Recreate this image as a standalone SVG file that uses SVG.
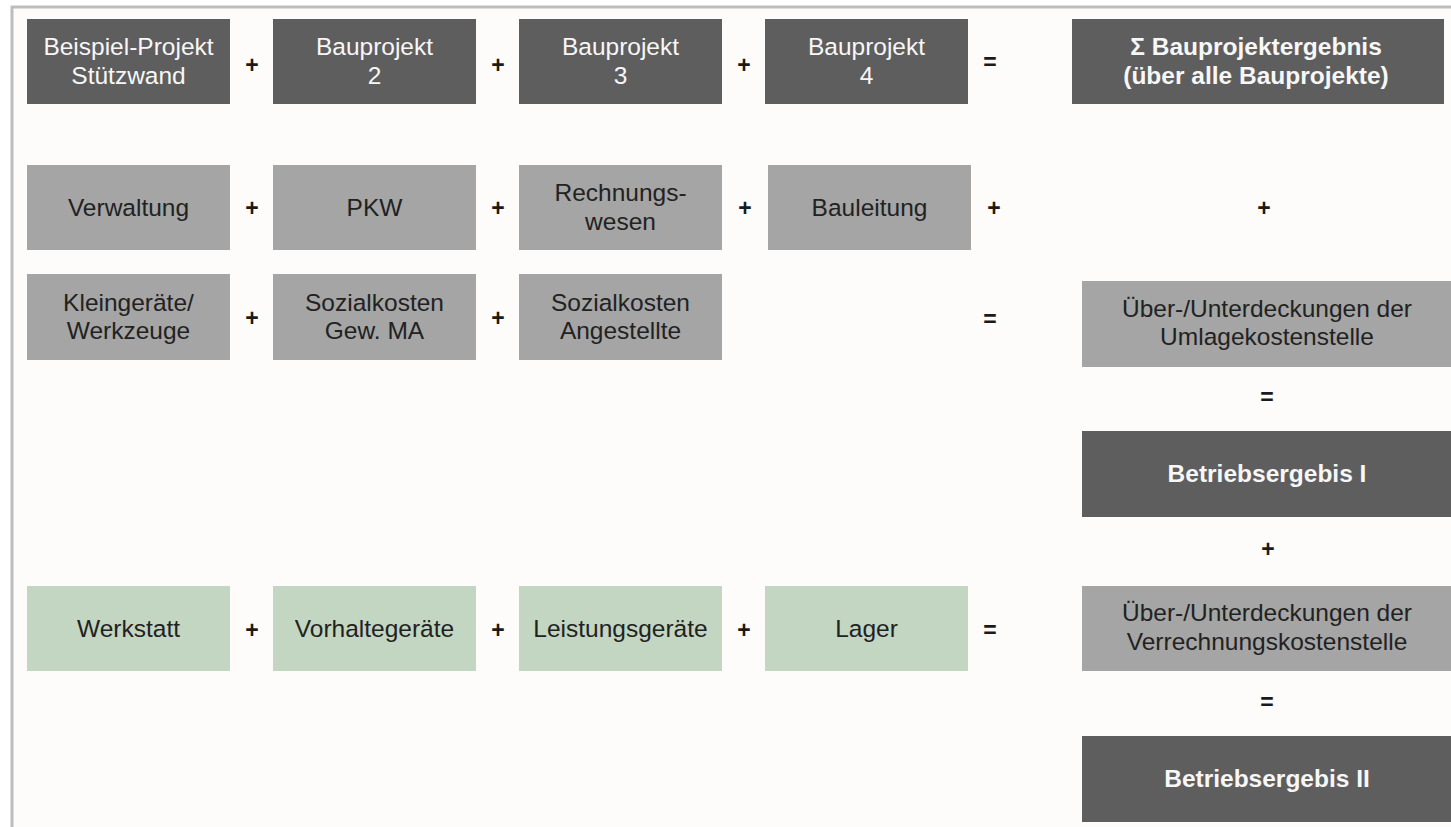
<svg xmlns="http://www.w3.org/2000/svg" width="1451" height="827" viewBox="0 0 1451 827">
<style>
.dark{fill:#5e5e5e}
.gray{fill:#a5a5a5}
.green{fill:#c3d6c2}
text{font-family:"Liberation Sans",Arial,sans-serif;text-anchor:middle}
.tw{fill:#f7f7f7;font-size:24.5px}
.tb{fill:#f7f7f7;font-size:24.5px;font-weight:bold}
.tk{fill:#222222;font-size:24.5px}
.op{fill:#1a1a1a;font-size:23px;font-weight:bold}
</style>
<rect x="0" y="0" width="1451" height="827" fill="#ffffff"/>
<rect x="12" y="7" width="1439" height="820" fill="#fdfcfa"/>
<line x1="11" y1="7" x2="1451" y2="7" stroke="#bdbdbd" stroke-width="3"/>
<line x1="12" y1="6" x2="12" y2="827" stroke="#bdbdbd" stroke-width="3"/>

<!-- Row 1 -->
<g id="bp1"><rect class="dark" x="27" y="19" width="203" height="85"/>
<text class="tw"><tspan x="128.5" y="55">Beispiel-Projekt</tspan><tspan x="128.5" y="83.5">Stützwand</tspan></text></g>
<g id="bp2"><rect class="dark" x="273" y="19" width="203" height="85"/>
<text class="tw"><tspan x="374.5" y="55">Bauprojekt</tspan><tspan x="374.5" y="83.5">2</tspan></text></g>
<g id="bp3"><rect class="dark" x="519" y="19" width="203" height="85"/>
<text class="tw"><tspan x="620.5" y="55">Bauprojekt</tspan><tspan x="620.5" y="83.5">3</tspan></text></g>
<g id="bp4"><rect class="dark" x="765" y="19" width="203" height="85"/>
<text class="tw"><tspan x="866.5" y="55">Bauprojekt</tspan><tspan x="866.5" y="83.5">4</tspan></text></g>
<g id="sum"><rect class="dark" x="1072" y="19" width="372" height="85"/>
<text class="tb"><tspan x="1256" y="55">Σ Bauprojektergebnis</tspan><tspan x="1256" y="83.5">(über alle Bauprojekte)</tspan></text></g>

<!-- Row 2 -->
<g id="verwaltung"><rect class="gray" x="27" y="165" width="203" height="85"/>
<text class="tk" x="128.5" y="216">Verwaltung</text></g>
<g id="pkw"><rect class="gray" x="273" y="165" width="203" height="85"/>
<text class="tk" x="374.5" y="216">PKW</text></g>
<g id="rechnungswesen"><rect class="gray" x="519" y="165" width="203" height="85"/>
<text class="tk"><tspan x="620.5" y="201">Rechnungs-</tspan><tspan x="620.5" y="229.5">wesen</tspan></text></g>
<g id="bauleitung"><rect class="gray" x="768" y="165" width="203" height="85"/>
<text class="tk" x="869.5" y="216">Bauleitung</text></g>

<!-- Row 3 -->
<g id="kleingeraete"><rect class="gray" x="27" y="274" width="203" height="86"/>
<text class="tk"><tspan x="128.5" y="310.5">Kleingeräte/</tspan><tspan x="128.5" y="339">Werkzeuge</tspan></text></g>
<g id="sozgew"><rect class="gray" x="273" y="274" width="203" height="86"/>
<text class="tk"><tspan x="374.5" y="310.5">Sozialkosten</tspan><tspan x="374.5" y="339">Gew. MA</tspan></text></g>
<g id="sozang"><rect class="gray" x="519" y="274" width="203" height="86"/>
<text class="tk"><tspan x="620.5" y="310.5">Sozialkosten</tspan><tspan x="620.5" y="339">Angestellte</tspan></text></g>

<!-- Right column -->
<g id="umlage"><rect class="gray" x="1082" y="281" width="371" height="86"/>
<text class="tk"><tspan x="1267" y="316.5">Über-/Unterdeckungen der</tspan><tspan x="1267" y="345">Umlagekostenstelle</tspan></text></g>
<g id="be1"><rect class="dark" x="1082" y="431" width="371" height="86"/>
<text class="tb" x="1267" y="482">Betriebsergebis I</text></g>
<g id="verrechnung"><rect class="gray" x="1082" y="586" width="371" height="85"/>
<text class="tk"><tspan x="1267" y="621">Über-/Unterdeckungen der</tspan><tspan x="1267" y="649.5">Verrechnungskostenstelle</tspan></text></g>
<g id="be2"><rect class="dark" x="1082" y="736" width="371" height="86"/>
<text class="tb" x="1267" y="787">Betriebsergebis II</text></g>

<!-- Green row -->
<g id="werkstatt"><rect class="green" x="27" y="586" width="203" height="85"/>
<text class="tk" x="128.5" y="637">Werkstatt</text></g>
<g id="vorhalte"><rect class="green" x="273" y="586" width="203" height="85"/>
<text class="tk" x="374.5" y="637">Vorhaltegeräte</text></g>
<g id="leistung"><rect class="green" x="519" y="586" width="203" height="85"/>
<text class="tk" x="620.5" y="637">Leistungsgeräte</text></g>
<g id="lager"><rect class="green" x="765" y="586" width="203" height="85"/>
<text class="tk" x="866.5" y="637">Lager</text></g>

<!-- Operators -->
<g id="operators">
<text class="op" x="252" y="73">+</text>
<text class="op" x="498" y="73">+</text>
<text class="op" x="744" y="73">+</text>
<text class="op" x="990" y="70">=</text>
<text class="op" x="252" y="216">+</text>
<text class="op" x="498" y="216">+</text>
<text class="op" x="745" y="216">+</text>
<text class="op" x="994" y="216">+</text>
<text class="op" x="1264" y="216">+</text>
<text class="op" x="252" y="326">+</text>
<text class="op" x="498" y="326">+</text>
<text class="op" x="990" y="327">=</text>
<text class="op" x="1267" y="405">=</text>
<text class="op" x="1268" y="557">+</text>
<text class="op" x="252" y="638">+</text>
<text class="op" x="498" y="638">+</text>
<text class="op" x="744" y="638">+</text>
<text class="op" x="990" y="638">=</text>
<text class="op" x="1267" y="710">=</text>
</g>
</svg>
